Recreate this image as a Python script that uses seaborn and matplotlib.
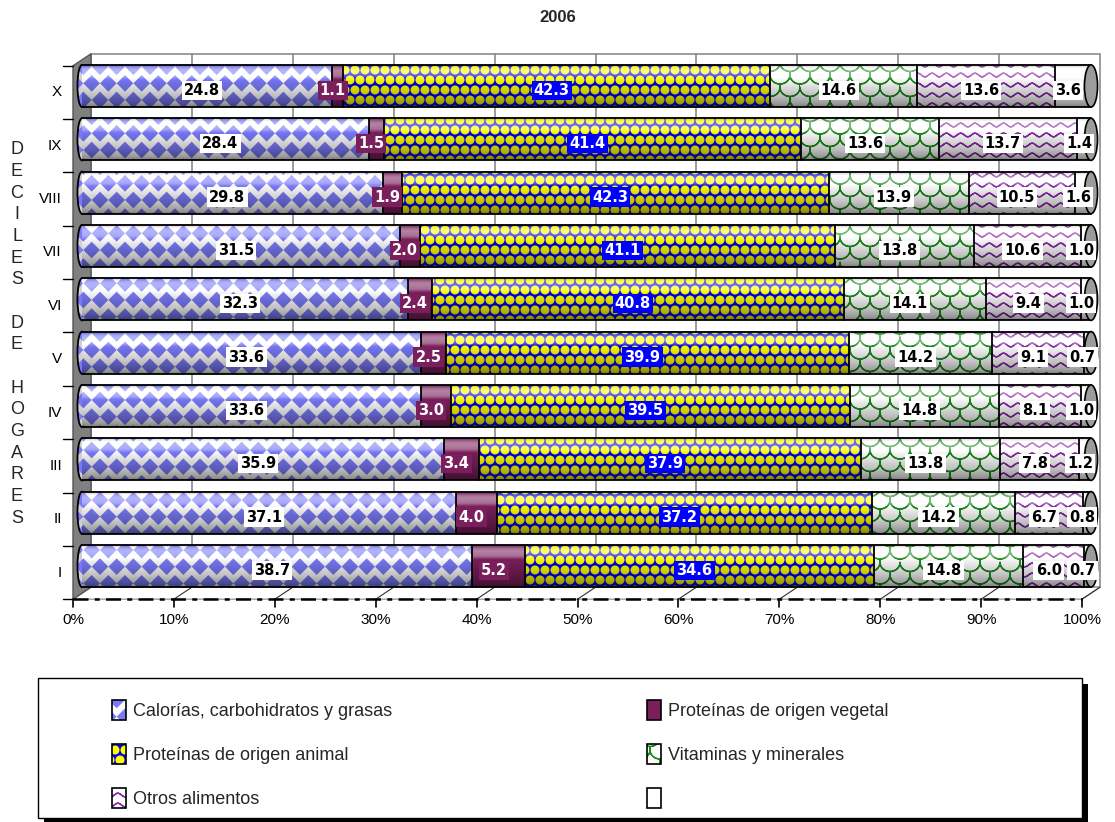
import warnings
warnings.filterwarnings("ignore")

import numpy as np
import pandas as pd
import matplotlib
matplotlib.use("Agg")
import matplotlib.pyplot as plt
from matplotlib import hatch as mhatch
from matplotlib.path import Path
from matplotlib.patches import Rectangle, Ellipse, Polygon
from matplotlib.lines import Line2D
from matplotlib.transforms import IdentityTransform
import seaborn as sns

# ---------------- data ----------------
deciles = ["X", "IX", "VIII", "VII", "VI", "V", "IV", "III", "II", "I"]
calorias = [24.8, 28.4, 29.8, 31.5, 32.3, 33.6, 33.6, 35.9, 37.1, 38.7]
prot_vegetal = [1.1, 1.5, 1.9, 2.0, 2.4, 2.5, 3.0, 3.4, 4.0, 5.2]
prot_animal = [42.3, 41.4, 42.3, 41.1, 40.8, 39.9, 39.5, 37.9, 37.2, 34.6]
vitaminas = [14.6, 13.6, 13.9, 13.8, 14.1, 14.2, 14.8, 13.8, 14.2, 14.8]
otros = [13.6, 13.7, 10.5, 10.6, 9.4, 9.1, 8.1, 7.8, 6.7, 6.0]
resto = [3.6, 1.4, 1.6, 1.0, 1.0, 0.7, 1.0, 1.2, 0.8, 0.7]

series_names = [
    "Calorías, carbohidratos y grasas",
    "Proteínas de origen vegetal",
    "Proteínas de origen animal",
    "Vitaminas y minerales",
    "Otros alimentos",
    "",
]
x_ticks = [0, 10, 20, 30, 40, 50, 60, 70, 80, 90, 100]
x_tick_labels = ["0%", "10%", "20%", "30%", "40%", "50%", "60%", "70%", "80%", "90%", "100%"]
title = "2006"
axis_title = "DECILES DE HOGARES"

series = [calorias, prot_vegetal, prot_animal, vitaminas, otros, resto]


# ---------------- fill patterns ----------------
class _FilledShapes(mhatch.Shapes):
    filled = True
    char = "?"
    rows_per_char = 6

    def __init__(self, hatch, density):
        self.num_rows = hatch.count(self.char) * self.rows_per_char
        super().__init__(hatch, density)


_diamond = Path.unit_regular_polygon(4)
_circle = Path.unit_circle()


class DiamondHatch(_FilledShapes):
    char = "D"
    rows_per_char = 6
    size = 0.44
    shape_vertices = _diamond.vertices
    shape_codes = _diamond.codes


class DotHatch(_FilledShapes):
    char = "Y"
    rows_per_char = 10
    size = 0.38
    shape_vertices = _circle.vertices
    shape_codes = _circle.codes


class _StrokeHatch(mhatch.HatchPatternBase):
    char = "?"

    def __init__(self, hatch, density):
        self.strokes = self.make_strokes() if hatch.count(self.char) else []
        self.num_vertices = sum(2 * len(s) for s in self.strokes)

    def set_vertices_and_codes(self, vertices, codes):
        i = 0
        for s in self.strokes:
            both = np.concatenate([s, s[::-1]])
            m = len(both)
            vertices[i:i + m] = both
            codes[i] = Path.MOVETO
            codes[i + 1:i + m] = Path.LINETO
            i += m


class WaveHatch(_StrokeHatch):
    char = "~"

    def make_strokes(self):
        t = np.linspace(0, 1, 113)
        return [np.column_stack([t, (r + 0.5) / 10 + 0.018 * np.sin(2 * np.pi * 7 * t)])
                for r in range(10)]


class ScaleHatch(_StrokeHatch):
    char = "U"

    def make_strokes(self):
        th = np.linspace(np.pi, 2 * np.pi, 17)
        ncol, nrow = 5, 8
        rx, ry = 0.5 / ncol, 0.09
        out = []
        for r in range(nrow + 1):
            shift = 0.5 / ncol if r % 2 else 0.0
            for c in range(ncol + 1):
                cx, cy = c / ncol + shift, r / nrow
                out.append(np.column_stack([cx + rx * np.cos(th), cy + ry * np.sin(th)]))
        return out


mhatch._hatch_types.extend([DiamondHatch, DotHatch, WaveHatch, ScaleHatch])

seg_styles = [
    dict(face="#FFFFFF", hatch="D", hcolor="#7A7AF8"),
    dict(face="#7B1F5C", hatch=None, hcolor="#7B1F5C"),
    dict(face="#0000F0", hatch="Y", hcolor="#FFFF00"),
    dict(face="#FFFFFF", hatch="U", hcolor="#1E8C1E"),
    dict(face="#FFFFFF", hatch="~", hcolor="#8A2BA8"),
    dict(face="#FFFFFF", hatch=None, hcolor="#FFFFFF"),
]
label_styles = [
    dict(tc="black", bc="white"),
    dict(tc="white", bc="#7B1F5C"),
    dict(tc="white", bc="#0000FF"),
    dict(tc="black", bc="white"),
    dict(tc="black", bc="white"),
    dict(tc="black", bc="white"),
]

# ---------------- figure ----------------
sns.set_theme(style="white")
plt.rcParams["font.family"] = ["Liberation Sans", "DejaVu Sans"]

W, H = 1115, 822
fig = plt.figure(figsize=(W / 100, H / 100), dpi=100)
fig.patch.set_facecolor("white")
ax = fig.add_axes([82 / W, 1 - 592.7 / H, 1009 / W, 533.4 / H])

values = np.array(series, dtype=float)            # (series, deciles)
cum = np.cumsum(values, axis=0)
pct = cum / cum[-1] * 100

# stacked bars: cumulative totals drawn from the longest to the shortest
layers = {}
for k in reversed(range(len(series))):
    st = seg_styles[k]
    layer = pd.DataFrame({"decil": deciles, "acumulado": pct[k]})
    n0 = len(ax.patches)
    sns.barplot(data=layer, x="acumulado", y="decil", order=deciles, orient="h",
                width=0.79, color=st["face"], saturation=1, edgecolor=st["hcolor"],
                linewidth=0, hatch=st["hatch"], errorbar=None, zorder=2, ax=ax)
    layers[k] = list(ax.patches[n0:])

ax.set_xlim(0, 100)
ax.set_ylim(len(deciles) - 0.5, -0.5)

full = layers[len(series) - 1]

# cylinder shading over each bar
t = np.linspace(0, 1, 80)
a_black = np.interp(t, [0, 0.1, 0.3, 0.5, 0.75, 0.92, 1], [0.28, 0.0, 0.0, 0.12, 0.26, 0.40, 0.5])
a_white = np.interp(t, [0, 0.1, 0.16, 0.28, 0.36, 1], [0.0, 0.35, 0.45, 0.35, 0.0, 0.0])
img_b = np.zeros((len(t), 1, 4))
img_b[..., 3] = a_black[:, None]
img_w = np.ones((len(t), 1, 4))
img_w[..., 3] = a_white[:, None]
for p in full:
    ext = (p.get_x(), p.get_x() + p.get_width(), p.get_y() + p.get_height(), p.get_y())
    ax.imshow(img_b, extent=ext, aspect="auto", interpolation="bilinear", zorder=3)
    ax.imshow(img_w, extent=ext, aspect="auto", interpolation="bilinear", zorder=3)

ax.set_xlim(0, 100)
ax.set_ylim(len(deciles) - 0.5, -0.5)
ax.axis("off")

# rounded left ends of the cylinders
cal = seg_styles[0]
for p in full:
    ax.add_patch(Ellipse((p.get_x(), p.get_y() + p.get_height() / 2), width=0.9,
                         height=p.get_height(), fc="#D0D0D0", ec=cal["hcolor"], lw=0,
                         hatch=cal["hatch"], zorder=1.9, clip_on=False))
    ax.add_patch(Ellipse((p.get_x(), p.get_y() + p.get_height() / 2), width=0.9,
                         height=p.get_height(), fill=False, ec="black", lw=1.3,
                         zorder=1.95, clip_on=False))

# segment outlines: top and bottom of each cylinder, separators between segments
for p in full:
    for yy in (p.get_y(), p.get_y() + p.get_height()):
        ax.add_line(Line2D([p.get_x(), p.get_x() + p.get_width()], [yy, yy],
                           color="black", lw=1.3, zorder=4, clip_on=False))
for k in range(len(series) - 1):
    for p in layers[k]:
        xe = p.get_x() + p.get_width()
        ax.add_line(Line2D([xe, xe], [p.get_y(), p.get_y() + p.get_height()],
                           color="black", lw=1.3, zorder=4, clip_on=False))

# end caps
for p in full:
    ax.add_patch(Ellipse((p.get_x() + p.get_width(), p.get_y() + p.get_height() / 2),
                         width=1.3, height=p.get_height(), fc="#9C9C9C", ec="black",
                         lw=1.2, zorder=4.5, clip_on=False))

# value labels
for k in range(len(series)):
    prev = pct[k - 1] if k else np.zeros(len(deciles))
    mids = (prev + pct[k]) / 2
    ls = label_styles[k]
    for p, m, v in zip(layers[k], mids, values[k]):
        ax.annotate(f"{v:.1f}", xy=(m, p.get_y() + p.get_height() / 2),
                    xytext=(-3.6, -3.2), textcoords="offset points",
                    ha="center", va="center", fontsize=10.5, fontweight="bold",
                    family="DejaVu Sans", color=ls["tc"], zorder=6, annotation_clip=False,
                    bbox=dict(boxstyle="square,pad=0.15", fc=ls["bc"], ec="none"))

# ---------------- 3-D frame ----------------
FRONT = (-9, 6.5)
BACK = (9, -5.5)
y_top, y_bot = -0.5, len(deciles) - 0.5
x_lo, x_hi = x_ticks[0], x_ticks[-1]


def disp(x, y, off, extra=(0, 0)):
    X, Y = ax.transData.transform((x, y))
    return (X + off[0] + extra[0], Y - off[1] - extra[1])


ident = IdentityTransform()
ax.add_patch(Polygon([disp(x_lo, y_top, BACK), disp(x_hi, y_top, BACK),
                      disp(x_hi, y_bot, BACK), disp(x_lo, y_bot, BACK)],
                     closed=True, fc="white", ec="#8C8C8C", lw=1.2, zorder=0.5,
                     transform=ident, clip_on=False))
ax.add_patch(Polygon([disp(x_lo, y_bot, FRONT), disp(x_hi, y_bot, FRONT),
                      disp(x_hi, y_bot, BACK), disp(x_lo, y_bot, BACK)],
                     closed=True, fc="white", ec="#A0A0A0", lw=1, zorder=0.55,
                     transform=ident, clip_on=False))
ax.add_patch(Polygon([disp(x_lo, y_top, FRONT), disp(x_lo, y_top, BACK),
                      disp(x_lo, y_bot, BACK), disp(x_lo, y_bot, FRONT)],
                     closed=True, fc="#808080", ec="#555555", lw=1, zorder=0.6,
                     transform=ident, clip_on=False))
for v in x_ticks[1:-1]:
    (xa, ya), (xb, yb) = disp(v, y_top, BACK), disp(v, y_bot, BACK)
    ax.add_line(Line2D([xa, xb], [ya, yb], color="#808080", lw=1.1, zorder=0.7,
                       transform=ident, clip_on=False))
for v in x_ticks[1:]:
    (xa, ya), (xb, yb) = disp(v, y_bot, FRONT), disp(v, y_bot, BACK)
    ax.add_line(Line2D([xa, xb], [ya, yb], color="#303030", lw=0.8, zorder=0.8,
                       transform=ident, clip_on=False))
(xa, ya), (xb, yb) = disp(x_lo, y_bot, FRONT), disp(x_hi, y_bot, FRONT)
ax.add_line(Line2D([xa, xb], [ya, yb], color="black", lw=1.8, ls=(0, (6, 2.5, 2, 2.5)),
                   zorder=0.9, transform=ident, clip_on=False))

# x ticks and labels
for v, lab in zip(x_ticks, x_tick_labels):
    (xa, ya), (xb, yb) = disp(v, y_bot, FRONT), disp(v, y_bot, FRONT, (0, 8))
    ax.add_line(Line2D([xa, xb], [ya, yb], color="black", lw=1.2, zorder=1,
                       transform=ident, clip_on=False))
    ax.annotate(lab, xy=(v, y_bot), xytext=(FRONT[0] * 0.72, -(FRONT[1] + 21) * 0.72),
                textcoords="offset points", ha="center", va="center", fontsize=11,
                color="black", annotation_clip=False)

# y ticks and labels
for b in np.arange(y_top, y_bot + 1):
    (xa, ya), (xb, yb) = disp(x_lo, b, FRONT), disp(x_lo, b, FRONT, (-10, 0))
    ax.add_line(Line2D([xa, xb], [ya, yb], color="black", lw=1.0, zorder=1,
                       transform=ident, clip_on=False))
for p, lab in zip(layers[0], deciles):
    ax.annotate(lab, xy=(0, p.get_y() + p.get_height() / 2),
                xytext=((FRONT[0] - 11) * 0.72, -FRONT[1] * 0.72),
                textcoords="offset points", ha="right", va="center", fontsize=11,
                color="black", annotation_clip=False)

# titles
fig.text(0.5, 1 - 18 / H, title, ha="center", va="center", fontsize=12, fontweight="bold")
stacked = "\n".join(list(axis_title))
fig.text(17 / W, 1 - 334 / H, stacked, ha="center", va="center", fontsize=13,
         linespacing=1.36, multialignment="center")

# ---------------- legend ----------------
handles = []
for st in seg_styles:
    fillp = Rectangle((0, 0), 1, 1, fc=st["face"], ec=st["hcolor"], lw=0, hatch=st["hatch"])
    edge = Rectangle((0, 0), 1, 1, fc="none", ec="black", lw=1.2)
    handles.append((fillp, edge))

fig.add_artist(Rectangle((44 / W, 1 - 823 / H), (1088 - 44) / W, (823 - 684) / H,
                         transform=fig.transFigure, fc="black", ec="none", zorder=1))
fig.add_artist(Rectangle((38 / W, 1 - 818 / H), (1082 - 38) / W, (818 - 678) / H,
                         transform=fig.transFigure, fc="white", ec="black", lw=1.0, zorder=1.5))

fs_leg = 13
px_per_fs = fs_leg * 100 / 72
for idxs, xpx in (((0, 2, 4), 112), ((1, 3, 5), 647)):
    fig.legend([handles[i] for i in idxs], [series_names[i] for i in idxs],
               loc="upper left", bbox_to_anchor=(xpx / W, 1 - 700 / H),
               frameon=False, borderpad=0, borderaxespad=0,
               handlelength=14 / px_per_fs, handleheight=24 / px_per_fs,
               handletextpad=7 / px_per_fs, labelspacing=24 / px_per_fs,
               fontsize=fs_leg)

fig.savefig("out.png", dpi=100)
